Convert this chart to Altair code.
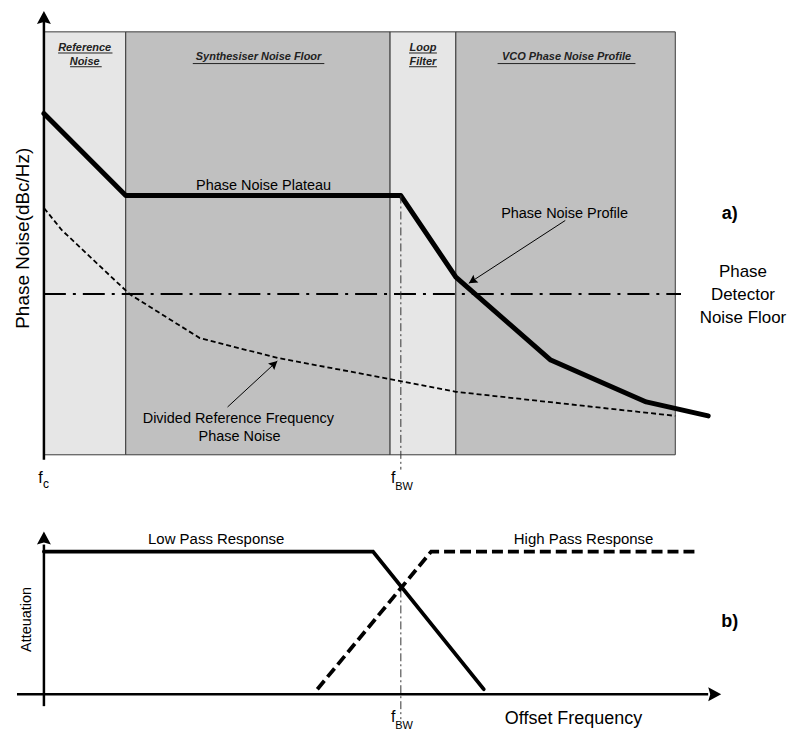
import altair as alt
import pandas as pd

FONT = "Liberation Sans"

# ---------------- scales (x: offset-frequency units, f_c = 0 ; y: level units) ----------------
X_DOM = [-5.52, 117.35]
TOP_Y_DOM = [-10.61, 105.42]
BOT_Y_DOM = [-25.17, 136.36]
W = 779
TOP_H = 492
BOT_H = 231

# ---------------- top panel data ----------------
band_x0 = [0.16, 13.1, 54.9, 65.3]
band_x1 = [13.1, 54.9, 65.3, 100.0]
band_fill = ["#e6e6e6", "#c0c0c0", "#e6e6e6", "#c0c0c0"]
band_lo = [0.0, 0.0, 0.0, 0.0]
band_hi = [100.0, 100.0, 100.0, 100.0]

profile_x = [0.16, 13.1, 56.6, 65.3, 80.3, 95.4, 105.2]
profile_y = [80.7, 61.3, 61.3, 42.0, 22.4, 12.5, 9.2]

divided_x = [0.2, 3.0, 13.7, 24.8, 37.1, 54.9, 65.3, 100.0]
divided_y = [58.3, 53.1, 38.0, 27.6, 22.9, 17.9, 14.9, 9.2]

pd_floor_x = [0.16, 100.9]
pd_floor_level = 38.0

f_bw = 56.6
f_bw_top_span = [61.3, -3.5]

top_axis_x = 0.16
top_axis_span = [-1.2, 102.6]

ann_x0 = [82.6, 29.2]
ann_y0 = [55.4, 11.3]
ann_x1 = [67.35, 37.07]
ann_y1 = [40.57, 22.17]
ann_angle = [237, 47]

top_label_text = ["Phase Noise Plateau", "Phase Noise Profile",
                  "Divided Reference Frequency", "Phase Noise",
                  "Phase", "Detector", "Noise Floor"]
top_label_x = [34.9, 82.5, 30.9, 31.1, 110.7, 110.7, 110.7]
top_label_y = [62.5, 56.1, 7.5, 3.3, 42.0, 36.5, 31.1]
top_label_size = [14.5, 14.5, 14.5, 14.5, 17, 17, 17]

head_text = ["Reference", "Noise", "Synthesiser Noise Floor", "Loop", "Filter",
             "VCO Phase Noise Profile"]
head_x = [6.6, 6.6, 34.1, 60.1, 60.1, 82.8]
head_y = [95.5, 92.2, 93.3, 95.5, 92.2, 93.3]
under_x0 = [2.4, 4.3, 23.7, 57.9, 57.9, 71.9]
under_x1 = [11.0, 9.3, 44.5, 62.3, 62.3, 93.7]
under_y = [95.0, 91.75, 92.5, 95.0, 91.75, 92.5]

# ---------------- bottom panel data ----------------
lowpass_x = [0.16, 52.2, 69.7]
lowpass_y = [100.0, 100.0, 3.5]
highpass_x = [43.4, 61.4, 103.3]
highpass_y = [3.5, 100.0, 100.0]
bot_xaxis_span = [-4.1, 105.2]
bot_yaxis_span = [-8.4, 104.9]
bot_fbw_span = [73.4, -17.5]

# arrow heads: x, y (tip), angle, size
head_pts_top = pd.DataFrame({"x": [top_axis_x, 67.35, 37.07],
                             "y": [104.95, 40.57, 22.17],
                             "ang": [0, ann_angle[0], ann_angle[1]],
                             "s": [400, 170, 170]})
head_pts_bot = pd.DataFrame({"x": [0.16, 107.26], "y": [114.0, 0.0],
                             "ang": [0, 90], "s": [400, 400]})

ARROW = "M0,0L-0.7,1.3L0,1.1L0.7,1.3Z"


def X(f):
    return alt.X(f"{f}:Q", scale=alt.Scale(domain=X_DOM, nice=False, zero=False), axis=None)


def YT(f):
    return alt.Y(f"{f}:Q", scale=alt.Scale(domain=TOP_Y_DOM, nice=False, zero=False), axis=None)


def YB(f):
    return alt.Y(f"{f}:Q", scale=alt.Scale(domain=BOT_Y_DOM, nice=False, zero=False), axis=None)


# ---------------- top panel layers ----------------
bands = alt.Chart(pd.DataFrame({"x0": band_x0, "x1": band_x1, "y0": band_lo,
                                "y1": band_hi, "c": band_fill})).mark_rect(
    stroke="#3a3a3a", strokeWidth=1).encode(
    x=X("x0"), x2="x1", y=YT("y0"), y2="y1", fill=alt.Fill("c:N", scale=None))

profile = alt.Chart(pd.DataFrame({"x": profile_x, "y": profile_y,
                                  "i": range(len(profile_x))})).mark_line(
    color="black", strokeWidth=5, strokeCap="round", strokeJoin="round").encode(
    x=X("x"), y=YT("y"), order="i:Q")

divided = alt.Chart(pd.DataFrame({"x": divided_x, "y": divided_y,
                                  "i": range(len(divided_x))})).mark_line(
    color="black", strokeWidth=1.8, strokeDash=[5, 3]).encode(
    x=X("x"), y=YT("y"), order="i:Q")

pdfloor = alt.Chart(pd.DataFrame({"x0": [pd_floor_x[0]], "x1": [pd_floor_x[1]],
                                  "y": [pd_floor_level]})).mark_rule(
    color="black", strokeWidth=2, strokeDash=[22, 7, 3, 7]).encode(
    x=X("x0"), x2="x1", y=YT("y"))

fbw_top = alt.Chart(pd.DataFrame({"x": [f_bw], "y0": [f_bw_top_span[0]],
                                  "y1": [f_bw_top_span[1]]})).mark_rule(
    color="#333333", strokeWidth=1, strokeDash=[8, 3, 2, 3]).encode(
    x=X("x"), y=YT("y0"), y2="y1")

yaxis_top = alt.Chart(pd.DataFrame({"x": [top_axis_x], "y0": [top_axis_span[0]],
                                    "y1": [top_axis_span[1]]})).mark_rule(
    color="black", strokeWidth=2.5).encode(x=X("x"), y=YT("y0"), y2="y1")

ann = alt.Chart(pd.DataFrame({"x0": ann_x0, "y0": ann_y0, "x1": ann_x1,
                              "y1": ann_y1})).mark_rule(
    color="black", strokeWidth=1).encode(x=X("x0"), y=YT("y0"), x2="x1", y2="y1")

heads_top = alt.Chart(head_pts_top).mark_point(
    shape=ARROW, filled=True, color="black", opacity=1, strokeWidth=0).encode(
    x=X("x"), y=YT("y"), angle=alt.Angle("ang:Q", scale=None),
    size=alt.Size("s:Q", scale=None))

labels_top = alt.Chart(pd.DataFrame({"t": top_label_text, "x": top_label_x,
                                     "y": top_label_y, "s": top_label_size})).mark_text(
    font=FONT, align="center", baseline="alphabetic", color="black").encode(
    x=X("x"), y=YT("y"), text="t:N", size=alt.Size("s:Q", scale=None))

headings = alt.Chart(pd.DataFrame({"t": head_text, "x": head_x, "y": head_y})).mark_text(
    font=FONT, fontSize=11, fontWeight="bold", fontStyle="italic", align="center",
    baseline="alphabetic", color="#222222").encode(x=X("x"), y=YT("y"), text="t:N")

underlines = alt.Chart(pd.DataFrame({"x0": under_x0, "x1": under_x1,
                                     "y": under_y})).mark_rule(
    color="#222222", strokeWidth=1).encode(x=X("x0"), x2="x1", y=YT("y"))

panel_a = alt.Chart(pd.DataFrame({"t": ["a)"], "x": [108.6], "y": [55.7]})).mark_text(
    font=FONT, fontSize=18, fontWeight="bold", align="center", baseline="alphabetic",
    color="black").encode(x=X("x"), y=YT("y"), text="t:N")

ytitle = alt.Chart(pd.DataFrame({"t": ["Phase Noise(dBc/Hz)"], "x": [-3.15],
                                 "y": [51.2]})).mark_text(
    font=FONT, fontSize=19, angle=270, align="center", baseline="middle",
    color="black").encode(x=X("x"), y=YT("y"), text="t:N")

fsym_top = alt.Chart(pd.DataFrame({"t": ["f", "c", "f", "BW"],
                                   "x": [-0.4, 0.5, 55.4, 57.1],
                                   "y": [-6.6, -7.8, -6.6, -8.25],
                                   "s": [16, 12, 16, 11]})).mark_text(
    font=FONT, align="center", baseline="alphabetic", color="black").encode(
    x=X("x"), y=YT("y"), text="t:N", size=alt.Size("s:Q", scale=None))

top = alt.layer(bands, profile, divided, pdfloor, fbw_top, yaxis_top, ann, heads_top,
                labels_top, headings, underlines, panel_a, ytitle, fsym_top).properties(
    width=W, height=TOP_H)

# ---------------- bottom panel layers ----------------
xaxis_b = alt.Chart(pd.DataFrame({"x0": [bot_xaxis_span[0]], "x1": [bot_xaxis_span[1]],
                                  "y": [0.0]})).mark_rule(
    color="black", strokeWidth=2.5).encode(x=X("x0"), x2="x1", y=YB("y"))

yaxis_b = alt.Chart(pd.DataFrame({"x": [0.16], "y0": [bot_yaxis_span[0]],
                                  "y1": [bot_yaxis_span[1]]})).mark_rule(
    color="black", strokeWidth=2.5).encode(x=X("x"), y=YB("y0"), y2="y1")

lowpass = alt.Chart(pd.DataFrame({"x": lowpass_x, "y": lowpass_y,
                                  "i": range(len(lowpass_x))})).mark_line(
    color="black", strokeWidth=3.8, strokeCap="round").encode(
    x=X("x"), y=YB("y"), order="i:Q")

highpass = alt.Chart(pd.DataFrame({"x": highpass_x, "y": highpass_y,
                                   "i": range(len(highpass_x))})).mark_line(
    color="black", strokeWidth=3.8, strokeDash=[11, 5]).encode(
    x=X("x"), y=YB("y"), order="i:Q")

fbw_bot = alt.Chart(pd.DataFrame({"x": [f_bw], "y0": [bot_fbw_span[0]],
                                  "y1": [bot_fbw_span[1]]})).mark_rule(
    color="#333333", strokeWidth=1, strokeDash=[8, 3, 2, 3]).encode(
    x=X("x"), y=YB("y0"), y2="y1")

heads_bot = alt.Chart(head_pts_bot).mark_point(
    shape=ARROW, filled=True, color="black", opacity=1, strokeWidth=0).encode(
    x=X("x"), y=YB("y"), angle=alt.Angle("ang:Q", scale=None),
    size=alt.Size("s:Q", scale=None))

labels_bot = alt.Chart(pd.DataFrame({
    "t": ["Low Pass Response", "High Pass Response", "Offset Frequency", "f", "BW"],
    "x": [27.4, 85.5, 83.9, 55.4, 57.1],
    "y": [105.6, 105.6, -21.0, -19.6, -24.5],
    "s": [15, 15, 18, 16, 11]})).mark_text(
    font=FONT, align="center", baseline="alphabetic", color="black").encode(
    x=X("x"), y=YB("y"), text="t:N", size=alt.Size("s:Q", scale=None))

panel_b = alt.Chart(pd.DataFrame({"t": ["b)"], "x": [108.6], "y": [46.9]})).mark_text(
    font=FONT, fontSize=18, fontWeight="bold", align="center", baseline="alphabetic",
    color="black").encode(x=X("x"), y=YB("y"), text="t:N")

ytitle_b = alt.Chart(pd.DataFrame({"t": ["Atteuation"], "x": [-2.5],
                                   "y": [52.4]})).mark_text(
    font=FONT, fontSize=14.5, angle=270, align="center", baseline="middle",
    color="black").encode(x=X("x"), y=YB("y"), text="t:N")

bottom = alt.layer(fbw_bot, lowpass, highpass, xaxis_b, yaxis_b, heads_bot,
                   labels_bot, panel_b, ytitle_b).properties(width=W, height=BOT_H)

chart = alt.vconcat(top, bottom, spacing=0, bounds="flush").properties(
    padding=0
).configure_view(stroke=None)

chart.save("out.html", embed_options={"renderer": "svg", "actions": False})
